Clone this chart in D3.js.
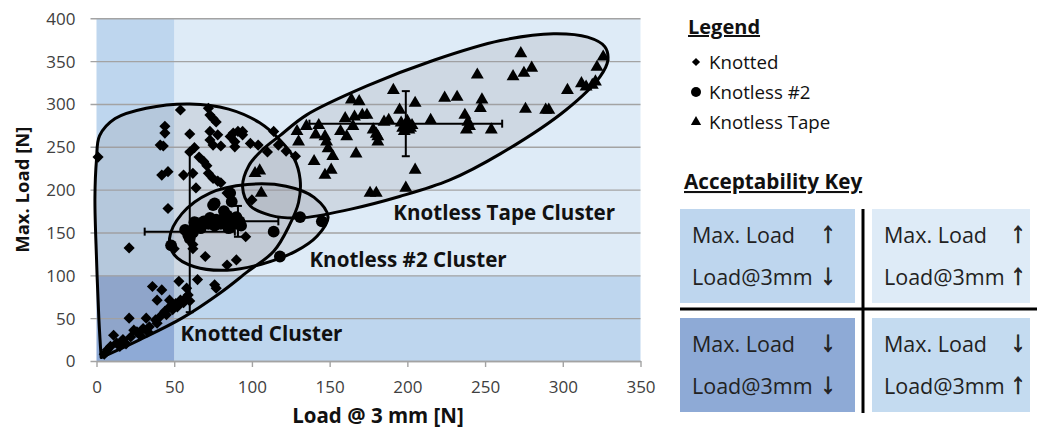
<!DOCTYPE html>
<html><head><meta charset="utf-8">
<script src="https://cdn.jsdelivr.net/npm/d3@7"></script>
<style>
body{margin:0;background:#fff}
svg{display:block}
text{font-family:"Open Sans",sans-serif}
</style>
</head><body>
<svg id="c" width="1037" height="436"></svg>
<script>
// ---------- data ----------
const xTicks = [0, 50, 100, 150, 200, 250, 300, 350];
const yTicks = [0, 50, 100, 150, 200, 250, 300, 350, 400];
const xThreshold = 50;   // Load @ 3 mm acceptability split
const yThreshold = 100;  // Max. Load acceptability split

const knotted = [
  [1,238],[54,293],[72,295],[73,287],[75,283],[77,279],[44,274],[44,266],[41,252],[43,251],
  [60,265],[73,268],[78,264],[73,258],[75,252],[80,251],[86,262],[88,266],[91,268],[94,264],
  [89,256],[99,254],[104,252],[63,249],[60,244],[66,238],[69,233],[71,228],[42,217],[46,221],
  [56,217],[62,219],[64,202],[72,219],[75,213],[78,210],[80,208],[84,196],[100,188],[46,178],
  [114,268],[117,252],[122,245],[128,239],[110,244],[89,250],[94,268],
  [21,132],[62,131],[70,122],[84,112],[90,118],[96,145],[62,136],[50,131],
  [36,87],[42,83],[53,93],[58,85],[65,95],[76,89],[77,85],[39,71],[47,71],[21,50],[32,50],
  [11,30],[7,13],[13,21],[17,25],[22,28],[26,34],[30,38],[34,40],[39,44],[41,52],[44,58],
  [47,63],[51,67],[54,71],[57,73],[59,77],[52,63],[45,54],[28,30],[9,17],[15,17],[24,36],
  [33,34],[38,48],[5,8],[19,20],[56,68],[60,70],[49,60]
];
const knotless2 = [
  [48,135],[57,153],[59,147],[62,150],[64,157],[67,155],[69,163],[73,167],[75,182],[77,165],
  [80,160],[82,167],[84,170],[86,159],[86,196],[87,186],[88,166],[89,163],[91,160],[92,163],
  [90,168],[93,158],[72,160],[76,158],[114,151],[131,168],[145,163],[118,122],[60,143],[63,162],
  [85,155],[76,184],[82,175]
];
const knotlessTape = [
  [102,219],[105,222],[106,196],[129,268],[130,256],[135,274],[143,275],[141,264],[147,262],
  [148,256],[149,248],[152,239],[140,233],[147,217],[151,223],[157,268],[161,262],[160,283],
  [164,305],[169,303],[166,285],[171,287],[174,287],[167,242],[165,274],[176,196],[180,196],
  [178,270],[181,262],[181,256],[185,279],[188,281],[191,316],[195,293],[205,301],[205,223],
  [199,202],[197,272],[199,276],[200,280],[201,270],[203,275],[198,268],[196,278],[202,272],
  [215,281],[224,307],[232,308],[248,305],[247,295],[237,287],[239,279],[240,274],[238,270],
  [254,270],[245,334],[268,332],[275,336],[280,342],[273,359],[276,294],[289,293],[291,293],
  [303,316],[312,324],[315,320],[319,322],[321,326],[322,343],[326,355],[180,265]
];

// error bars: mean +/- spread for Knotted, Knotless #2, Knotless Tape
const errMeanX = [60, 91, 199];
const errMeanY = [151, 163, 277];
const errSpreadX = [29, 26, 62];
const errSpreadY = [94, 18, 38];

// hand-drawn cluster outlines (data coordinates)
const knottedOutline = [
  [3,4],[28,25],[55,50],[80,80],[97,104],[114,128],[124,158],[130,185],[131,212],[127,237],
  [118,258],[105,278],[85,294],[60,300],[32,295],[12,283],[2,263],[0,235],[-1,190],[0,120],[1.5,50],[3,4]
];
const knotless2Outline = [
  [47,143],[55,172],[73,196],[97,206],[122,204],[140,191],[149,168],[142,146],[128,128],
  [106,113],[84,106],[63,110],[50,124]
];
const tapeOutline = [
  [94,203],[98,228],[107,247],[118,263],[135,287],[174,321],[217,351],[260,374],[294,382],
  [316,378],[327,367],[329,351],[324,332],[302,293],[260,242],[227,211],[195,192],[163,177],
  [131,167],[112,170],[99,181]
];

const clusterLabels = ["Knotted Cluster", "Knotless #2 Cluster", "Knotless Tape Cluster"];
const clusterLabelX = [54, 137, 191];
const clusterLabelY = [23, 110, 165];

const legendNames = ["Knotted", "Knotless #2", "Knotless Tape"];
const keyMaxLoad = ["↑", "↑", "↓", "↓"];
const keyLoad3mm = ["↓", "↑", "↓", "↑"];

// ---------- chart ----------
const svg = d3.select("#c");
const x = d3.scaleLinear([0, 350], [96.5, 640.5]);
const y = d3.scaleLinear([0, 400], [361, 18.3]);

const cLight = "#deebf7", cMid = "#bed6ee", cDark = "#8eaad6";
const bg = svg.append("g");
bg.append("rect").attr("x", x(xThreshold)).attr("y", y(400)).attr("width", x(350)-x(xThreshold)).attr("height", y(yThreshold)-y(400)).attr("fill", cLight);
bg.append("rect").attr("x", x(0)).attr("y", y(400)).attr("width", x(xThreshold)-x(0)).attr("height", y(yThreshold)-y(400)).attr("fill", cMid);
bg.append("rect").attr("x", x(xThreshold)).attr("y", y(yThreshold)).attr("width", x(350)-x(xThreshold)).attr("height", y(0)-y(yThreshold)).attr("fill", cMid);
bg.append("rect").attr("x", x(0)).attr("y", y(yThreshold)).attr("width", x(xThreshold)-x(0)).attr("height", y(0)-y(yThreshold)).attr("fill", cDark);

// gridlines + y axis
const yAxis = svg.append("g").attr("transform", `translate(${x(0)},0)`)
  .call(d3.axisLeft(y).tickValues(yTicks).tickSize(-(x(350)-x(0))).tickSizeOuter(0).tickPadding(20));
yAxis.select(".domain").remove();
yAxis.selectAll(".tick line").attr("stroke", "#a3a3a3").attr("stroke-width", 1.4).attr("x1", -6);
yAxis.selectAll(".tick text").attr("font-size", 17).attr("fill", "#404040").attr("x", -21).attr("dy", "0.35em");

const xAxis = svg.append("g").attr("transform", `translate(0,${y(0)})`)
  .call(d3.axisBottom(x).tickValues(xTicks).tickSize(6).tickSizeOuter(0).tickPadding(14));
xAxis.select(".domain").attr("stroke", "#a3a3a3").attr("stroke-width", 1.4);
xAxis.selectAll(".tick line").attr("stroke", "#a3a3a3").attr("stroke-width", 1.4);
xAxis.selectAll(".tick text").attr("font-size", 17).attr("fill", "#404040");

// outlines
const openLine = d3.line().x(d => x(d[0])).y(d => y(d[1])).curve(d3.curveCatmullRom.alpha(0.5));
const closedLine = d3.line().x(d => x(d[0])).y(d => y(d[1])).curve(d3.curveCatmullRomClosed.alpha(0.5));
const shapes = [
  openLine(knottedOutline) + "Z",
  closedLine(knotless2Outline),
  closedLine(tapeOutline)
];
svg.append("g").selectAll("path").data(shapes).join("path")
  .attr("d", d => d).attr("fill", "rgba(150,150,160,0.22)").attr("stroke", "none");
svg.append("g").selectAll("path").data(shapes).join("path")
  .attr("d", d => d).attr("fill", "none").attr("stroke", "#000").attr("stroke-width", 3).attr("stroke-linejoin", "round");

// error bars
const eb = svg.append("g").attr("stroke", "#000").attr("stroke-width", 2);
errMeanX.forEach((mx, i) => {
  const my = errMeanY[i], sx = errSpreadX[i], sy = errSpreadY[i];
  eb.append("line").attr("x1", x(mx - sx)).attr("x2", x(mx + sx)).attr("y1", y(my)).attr("y2", y(my));
  eb.append("line").attr("x1", x(mx)).attr("x2", x(mx)).attr("y1", y(my - sy)).attr("y2", y(my + sy));
  [mx - sx, mx + sx].forEach(v => eb.append("line").attr("x1", x(v)).attr("x2", x(v)).attr("y1", y(my) - 4).attr("y2", y(my) + 4));
  [my - sy, my + sy].forEach(v => eb.append("line").attr("x1", x(mx) - 4).attr("x2", x(mx) + 4).attr("y1", y(v)).attr("y2", y(v)));
});

// points
const diamond = d3.symbol(d3.symbolSquare, 62)();
const circle = d3.symbol(d3.symbolCircle, 110)();
const tri = d3.symbol(d3.symbolTriangle, 72)();
const pts = svg.append("g").attr("fill", "#000");
pts.selectAll(".k").data(knotted).join("path").attr("class", "k").attr("d", diamond)
  .attr("transform", d => `translate(${x(d[0])},${y(d[1])}) rotate(45)`);
pts.selectAll(".n").data(knotless2).join("path").attr("class", "n").attr("d", circle)
  .attr("transform", d => `translate(${x(d[0])},${y(d[1])})`);
pts.selectAll(".t").data(knotlessTape).join("path").attr("class", "t").attr("d", tri)
  .attr("transform", d => `translate(${x(d[0])},${y(d[1])})`);

// cluster labels
svg.append("g").selectAll("text").data(clusterLabels).join("text")
  .attr("x", (d, i) => x(clusterLabelX[i])).attr("y", (d, i) => y(clusterLabelY[i]))
  .attr("font-size", 20.6).attr("font-weight", "bold").attr("fill", "#111").text(d => d);

// axis titles
svg.append("text").attr("transform", `translate(29,${(y(0)+y(400))/2}) rotate(-90)`)
  .attr("text-anchor", "middle").attr("font-size", 18.5).attr("font-weight", "bold").attr("fill", "#111").text("Max. Load [N]");
svg.append("text").attr("x", 378).attr("y", 423)
  .attr("text-anchor", "middle").attr("font-size", 20.5).attr("font-weight", "bold").attr("fill", "#111").text("Load @ 3 mm [N]");

// legend
const lg = svg.append("g");
lg.append("text").attr("x", 688).attr("y", 34).attr("font-size", 20).attr("font-weight", "bold")
  .attr("text-decoration", "underline").attr("fill", "#111").text("Legend");
const legSyms = [d3.symbol(d3.symbolSquare, 34)(), d3.symbol(d3.symbolCircle, 78)(), d3.symbol(d3.symbolTriangle, 46)()];
legendNames.forEach((n, i) => {
  const cy = 62 + i * 30;
  lg.append("path").attr("d", legSyms[i]).attr("fill", "#000")
    .attr("transform", `translate(696,${cy}) ${i === 0 ? "rotate(45)" : ""}`);
  lg.append("text").attr("x", 709).attr("y", cy + 7).attr("font-size", 18.7).attr("fill", "#111").text(n);
});

lg.append("text").attr("x", 684).attr("y", 189).attr("font-size", 20.7).attr("font-weight", "bold")
  .attr("text-decoration", "underline").attr("fill", "#111").text("Acceptability Key");

const keyColors = [cMid, cLight, cDark, "#c4dbf0"];
const keyX = [680, 872], keyY = [209, 318], keyW = [175, 158], keyH = 94;
keyColors.forEach((c, i) => {
  const col = i % 2, row = Math.floor(i / 2);
  lg.append("rect").attr("x", keyX[col]).attr("y", keyY[row]).attr("width", keyW[col]).attr("height", keyH).attr("fill", c);
  const tx = keyX[col] + 12;
  const ax = keyX[col] + (col === 0 ? 148 : 146);
  const by = keyY[row] + 34;
  lg.append("text").attr("x", tx).attr("y", by).attr("font-size", 21.5).attr("fill", "#222").text("Max. Load");
  lg.append("text").attr("x", ax).attr("y", by - 1).attr("text-anchor", "middle").attr("font-size", 29)
    .attr("font-family", "DejaVu Sans").attr("font-weight", "bold").attr("fill", "#222")
    .attr("stroke", "#222").attr("stroke-width", 0.8).text(keyMaxLoad[i]);
  lg.append("text").attr("x", tx).attr("y", by + 42).attr("font-size", 21.5).attr("fill", "#222").text("Load@3mm");
  lg.append("text").attr("x", ax).attr("y", by + 41).attr("text-anchor", "middle").attr("font-size", 29)
    .attr("font-family", "DejaVu Sans").attr("font-weight", "bold").attr("fill", "#222")
    .attr("stroke", "#222").attr("stroke-width", 0.8).text(keyLoad3mm[i]);
});
lg.append("line").attr("x1", 863).attr("x2", 863).attr("y1", 209).attr("y2", 413).attr("stroke", "#000").attr("stroke-width", 3);
lg.append("line").attr("x1", 680).attr("x2", 1037).attr("y1", 309).attr("y2", 309).attr("stroke", "#000").attr("stroke-width", 3);
</script>
</body></html>
